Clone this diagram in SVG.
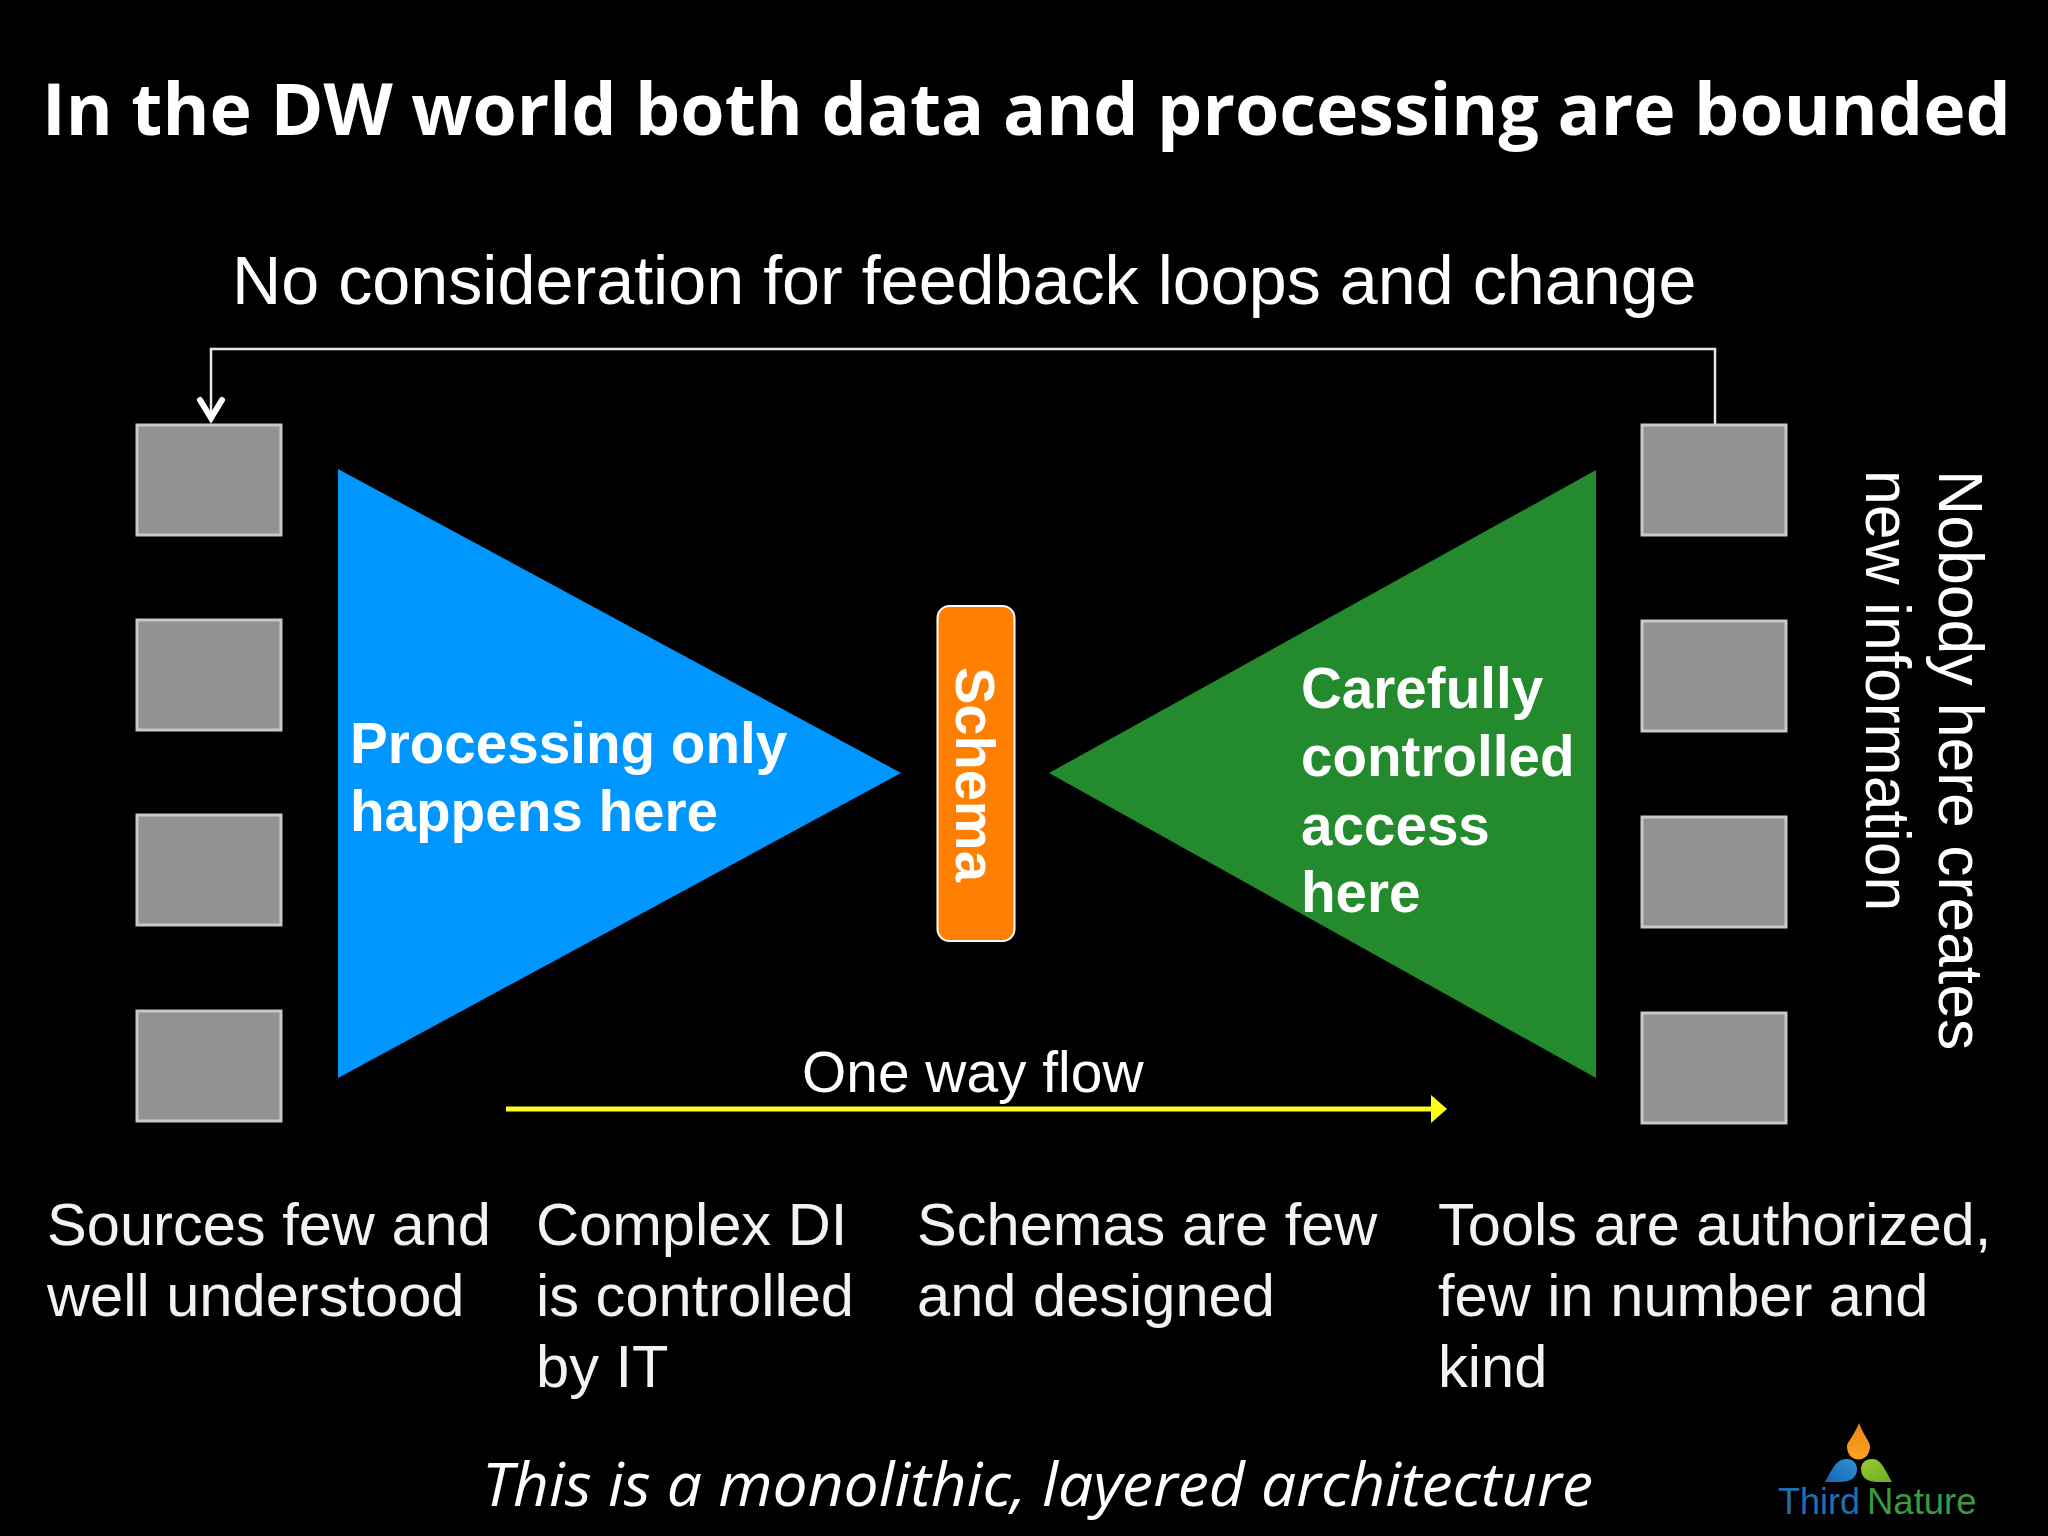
<svg xmlns="http://www.w3.org/2000/svg" width="2048" height="1536" viewBox="0 0 2048 1536">
<style>
.s{font-family:"Liberation Sans",Arial,sans-serif;fill:#fff}
.b{font-size:59.600px;fill:#f2f2f2}
.w{font-size:56.600px;font-weight:700}
.box{fill:#929292;stroke:#c8c8c8;stroke-width:3}
.o{font-family:"Open Sans","Noto Sans",sans-serif;fill:#fff}
</style>
<defs>
<marker id="open" markerUnits="userSpaceOnUse" markerWidth="32" markerHeight="36" refX="15" refY="23" orient="0"><path d="M4 4L15 22L26 4" fill="none" stroke="#fff" stroke-width="6" stroke-linecap="round"/></marker>
<linearGradient id="go" x1="0" y1="0" x2="0" y2="1"><stop offset="0" stop-color="#ee7f1a"/><stop offset="1" stop-color="#fba823"/></linearGradient>
<linearGradient id="bl" x1="0" y1="1" x2="1" y2="0"><stop offset="0" stop-color="#1565ad"/><stop offset="1" stop-color="#2f93d8"/></linearGradient>
<linearGradient id="gr" x1="0" y1="0" x2="1" y2="1"><stop offset="0" stop-color="#9ccb2d"/><stop offset="1" stop-color="#68ab27"/></linearGradient>
</defs>
<rect width="2048" height="1536" fill="#000"/>
<text id="title" class="o" x="42" y="135" font-size="71.600" font-weight="700">In the DW world both data and processing are bounded</text>
<text id="top-label" class="s" x="232" y="304" font-size="68.250">No consideration for feedback loops and change</text>
<g id="connectors">
<path d="M1715 424V349H211V419" fill="none" stroke="#e8e8e8" stroke-width="2.500" marker-end="url(#open)"/>
<path d="M506 1109H1432" fill="none" stroke="#ffff1a" stroke-width="5"/>
<path d="M1431 1095L1447 1109L1431 1123Z" fill="#ffff1a"/>
</g>
<g id="src1"><rect class="box" x="137" y="425" width="144" height="110"/></g>
<g id="src2"><rect class="box" x="137" y="620" width="144" height="110"/></g>
<g id="src3"><rect class="box" x="137" y="815" width="144" height="110"/></g>
<g id="src4"><rect class="box" x="137" y="1011" width="144" height="110"/></g>
<g id="tool1"><rect class="box" x="1642" y="425" width="144" height="110"/></g>
<g id="tool2"><rect class="box" x="1642" y="621" width="144" height="110"/></g>
<g id="tool3"><rect class="box" x="1642" y="817" width="144" height="110"/></g>
<g id="tool4"><rect class="box" x="1642" y="1013" width="144" height="110"/></g>
<g id="processing">
<path d="M338 469L901 773L338 1078Z" fill="#0096ff"/>
<text class="s w" x="350" y="763">Processing only</text>
<text class="s w" x="350" y="831">happens here</text>
</g>
<g id="access">
<path d="M1596 470L1049 773L1596 1078Z" fill="#238b2d"/>
<text class="s w" x="1301" y="708">Carefully</text>
<text class="s w" x="1301" y="776">controlled</text>
<text class="s w" x="1301" y="845">access</text>
<text class="s w" x="1301" y="912">here</text>
</g>
<g id="schema">
<rect x="937.500" y="606" width="77" height="335" rx="12" fill="#ff7f00" stroke="#fff" stroke-width="2"/>
<text class="s" transform="translate(956 667) rotate(90)" font-size="56" font-weight="700">Schema</text>
</g>
<text id="side1" class="s" transform="translate(1939 470) rotate(90)" font-size="62.500" fill="#f2f2f2">Nobody here creates</text>
<text id="side2" class="s" transform="translate(1866 470) rotate(90)" font-size="62.500" fill="#f2f2f2">new information</text>
<text id="flow-label" class="s" x="802" y="1092" font-size="56.900" fill="#f2f2f2">One way flow</text>
<g id="captions">
<text class="s b" x="47" y="1245">Sources few and</text><text class="s b" x="47" y="1316">well understood</text>
<text class="s b" x="536" y="1245">Complex DI</text><text class="s b" x="536" y="1316">is controlled</text><text class="s b" x="536" y="1387">by IT</text>
<text class="s b" x="917" y="1245">Schemas are few</text><text class="s b" x="917" y="1316">and designed</text>
<text class="s b" x="1438" y="1245">Tools are authorized,</text><text class="s b" x="1438" y="1316">few in number and</text><text class="s b" x="1438" y="1387">kind</text>
</g>
<text id="footer" class="o" x="482" y="1506" font-size="60" font-style="italic" textLength="1111" lengthAdjust="spacingAndGlyphs">This is a monolithic, layered architecture</text>
<g id="logo">
<path d="M1859 1423C1864 1436 1870 1442 1870 1446C1870 1464 1847 1464 1847 1446C1847 1442 1854 1436 1859 1423Z" fill="url(#go)"/>
<path d="M1825 1482C1832 1470 1836 1459 1846 1459C1853 1458 1857 1464 1857 1469C1857 1478 1850 1482 1840 1482Z" fill="url(#bl)"/>
<path d="M1892 1482C1885 1470 1881 1459 1873 1459C1865 1458 1861 1464 1861 1469C1861 1478 1868 1482 1878 1482Z" fill="url(#gr)"/>
<text x="1778" y="1514" font-family="Liberation Sans,sans-serif" font-size="36" fill="#1f6fae">Third</text>
<text x="1867" y="1514" font-family="Liberation Sans,sans-serif" font-size="36.500" fill="#3a9a42">Nature</text>
</g>
</svg>
